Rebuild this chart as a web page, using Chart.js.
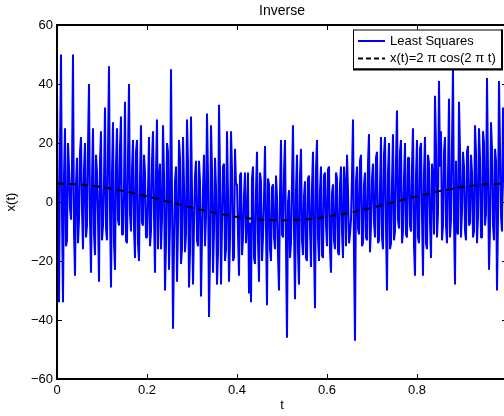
<!DOCTYPE html>
<html>
<head>
<meta charset="utf-8">
<script src="https://cdn.jsdelivr.net/npm/chart.js@4.4.1/dist/chart.umd.min.js"></script>
<style>
  html, body { margin: 0; padding: 0; background: #fff; overflow: hidden; }
  #wrap { width: 504px; height: 416px; overflow: hidden; }
</style>
</head>
<body>
<div id="wrap"><canvas id="chart-inverse" width="520" height="416"></canvas></div>
<script>
'use strict'

// ------------------------------------------------------------
// Inverse : least squares estimate vs x(t) = 2 pi cos(2 pi t)
// ------------------------------------------------------------
const FONT = '"Liberation Sans", Arial, Helvetica, sans-serif' ;

const X_TICKS = [0, 0.2, 0.4, 0.6, 0.8, 1] ;
const Y_TICKS = [-60, -40, -20, 0, 20, 40, 60] ;

// least squares solution, even samples over t in [0, 1]
const LS_VALUES = [
    38, -34, 50, -34, 25, -13, 12, -6, 50, -25,
    15, -6, 22, -16, 20, -8, 40, -24, 25, -18,
    10, -27, 24, -8, 32, -13, 46, -29, 27, -23,
    25, -8, 29, -11, 34, -14, 40, -10, 21, -19,
    21, -20, 26, -8, 10, -12, 22, -10, 24, -24,
    28, 8, -16, 26, -30, 20, -23, 45, -43, 7,
    -27, 21, -21, 22, -17, 28, -29, 29, -28, 9,
    -13, 14, -32, 5, -15, 30, -39, 26, -24, 15,
    -28, 33, -28, 12, -20, 24, -27, 24, -20, 18,
    6, -25, 10, -12, 10, -6, -31, -34, 12, -21,
    17, -27, 7, -12, 19, -35, 6, -20, 6, -16,
    2, -30, 21, -12, 21, -46, 4, -14, 26, -33,
    16, -28, 18, -18, 7, -20, 9, -22, 17, -36,
    21, -20, 12, -19, 10, -15, 12, -24, 6, -16,
    8, -18, 12, -19, 6, 16, -14, -6, 28, -47,
    12, -11, 16, -14, 10, -13, 23, -8, 13, -12,
    17, -13, 22, -16, 22, -30, 20, -14, 23, -10,
    31, -9, 21, -10, 20, -12, 15, -10, 25, -25,
    21, -14, 20, -25, 22, -16, 13, -19, 8, 36,
    -12, 41, 24, -8, 22, -14, 35, -6, 45, -28,
    -10, 34, -12, 17, -10, 17, -8, 16, -12, 26,
    -14, 25, -12, 24, -8, 42, -23, 27, -8, 18,
    -30, 41, -5, 32, -2, 15
] ;

// odd samples, each one sits between two of the even samples above
const LS_MID_VALUES = [
    -12, 18, -4, 9, -15, 20, -2, 12, -10, 6,
    -14, 17, -3, 11, -12, 19, -6, 8, -11, 16,
    -5, 14, -13, 7, -9, 18, -3, 10, -14, 13,
    -6, 19, -11, 5, -13, 16, -4, 11, -9, 17,
    -14, 8, -7, 16, -12, 4, -15, 14, -5, 10,
    -16, 13, -6, 9, -14, 17, -8, 3, -15, 12,
    -9, 15, -16, 6, -11, 13, -17, 4, -8, 14,
    -15, 7, -12, 16, -5, 9, -18, 11, -10, 5,
    -17, 10, -8, 13, -16, 3, -12, 11, -19, 6,
    -11, 9, -18, 2, -14, 10, -7, 8, -19, 4,
    -13, 10, -20, 1, -9, 8, -16, 5, -12, 9,
    -18, 3, -11, 10, -15, 0, -19, 7, -10, 4,
    -17, 9, -13, 2, -19, 8, -9, 5, -16, 11,
    -12, 4, -18, 9, -8, 11, -16, 3, -13, 10,
    -17, 6, -10, 12, -15, 4, -11, 9, -18, 7,
    -9, 14, -15, 6, -12, 13, -17, 8, -7, 15,
    -14, 5, -12, 16, -9, 10, -16, 7, -13, 14,
    -6, 17, -14, 8, -11, 15, -8, 12, -15, 9,
    -12, 18, -5, 10, -14, 16, -7, 13, -11, 19,
    -4, 12, -13, 17, -8, 9, -12, 20, -6, 14,
    -11, 18, -3, 12, -13, 19, -7, 10, -10, 17,
    -5, 15, -12, 20, -4, 11, -9, 18, -13, 14,
    -6, 19, -10, 13, -4
] ;

// exact solution
const COS_T = [0, 0.05, 0.1, 0.15, 0.2, 0.25, 0.3, 0.35, 0.4, 0.45, 0.5,
               0.55, 0.6, 0.65, 0.7, 0.75, 0.8, 0.85, 0.9, 0.95, 1] ;
const COS_VALUES = [6.28, 5.98, 5.08, 3.69, 1.94, 0, -1.94, -3.69, -5.08, -5.98, -6.28,
                    -5.98, -5.08, -3.69, -1.94, 0, 1.94, 3.69, 5.08, 5.98, 6.28] ;

const LEGEND_LABELS = ['Least Squares', 'x(t)=2 \u03c0 cos(2 \u03c0 t)'] ;
const TICK_LEN = 5 ;

// even / odd samples put back in order
const lsSeries = [] ;
LS_VALUES.forEach((v, i) => {
    lsSeries.push(v) ;
    if (i < LS_MID_VALUES.length) lsSeries.push(LS_MID_VALUES[i]) ;
}) ;
const lsPoints  = lsSeries.map((v, i) => ({ x: i / (lsSeries.length - 1), y: v })) ;
const cosPoints = COS_T.map((t, i) => ({ x: t, y: COS_VALUES[i] })) ;

const fmtMinus = v => (v < 0 ? '\u2212' + Math.abs(v) : String(v)) ;

// matlab-like box : frame + inner ticks on the 4 sides, title, legend
const frameTicks = {
    id: 'frameTicks',
    afterDatasetsDraw(chart) {
        const { ctx, chartArea: a, scales: { x, y } } = chart ;
        ctx.save() ;
        ctx.strokeStyle = '#000' ;
        ctx.lineWidth = 1 ;
        ctx.beginPath() ;
        X_TICKS.forEach(v => {
            const px = Math.round(x.getPixelForValue(v)) + 0.5 ;
            ctx.moveTo(px, a.bottom) ; ctx.lineTo(px, a.bottom - TICK_LEN) ;
            ctx.moveTo(px, a.top) ;    ctx.lineTo(px, a.top + TICK_LEN) ;
        }) ;
        Y_TICKS.forEach(v => {
            const py = Math.round(y.getPixelForValue(v)) + 0.5 ;
            ctx.moveTo(a.left, py) ;  ctx.lineTo(a.left + TICK_LEN, py) ;
            ctx.moveTo(a.right, py) ; ctx.lineTo(a.right - TICK_LEN, py) ;
        }) ;
        ctx.stroke() ;
        ctx.lineWidth = 2 ;
        ctx.strokeRect(a.left, a.top, a.right - a.left, a.bottom - a.top) ;
        ctx.restore() ;
    },
    afterDraw(chart) {
        const { ctx, chartArea: a } = chart ;
        ctx.save() ;

        // title
        ctx.fillStyle = '#000' ;
        ctx.font = '14px ' + FONT ;
        ctx.textAlign = 'center' ;
        ctx.textBaseline = 'alphabetic' ;
        ctx.fillText('Inverse', (a.left + a.right) / 2, 15) ;

        // legend box, top right inside the axes
        const w = 149, h = 40 ;
        const bx = a.right - 5 - w, by = a.top + 4.5 ;
        ctx.fillStyle = '#fff' ;
        ctx.fillRect(bx, by, w, h) ;
        ctx.strokeStyle = '#000' ;
        ctx.lineWidth = 1 ;
        ctx.strokeRect(bx + 0.5, by + 0.5, w - 1, h - 1) ;
        ctx.lineWidth = 2 ;
        ctx.beginPath() ;
        ctx.moveTo(bx + w, by) ; ctx.lineTo(bx + w, by + h) ; ctx.lineTo(bx, by + h) ;
        ctx.stroke() ;

        const rows = [by + 11.5, by + 29] ;
        ctx.lineWidth = 2 ;
        ctx.strokeStyle = '#0000ff' ;
        ctx.beginPath() ; ctx.moveTo(bx + 5, rows[0]) ; ctx.lineTo(bx + 32, rows[0]) ; ctx.stroke() ;
        ctx.strokeStyle = '#000' ;
        ctx.setLineDash([5, 3]) ;
        ctx.beginPath() ; ctx.moveTo(bx + 5, rows[1]) ; ctx.lineTo(bx + 32, rows[1]) ; ctx.stroke() ;
        ctx.setLineDash([]) ;

        ctx.fillStyle = '#000' ;
        ctx.font = '13px ' + FONT ;
        ctx.textAlign = 'left' ;
        ctx.textBaseline = 'middle' ;
        LEGEND_LABELS.forEach((txt, i) => ctx.fillText(txt, bx + 37, rows[i])) ;
        ctx.restore() ;
    }
} ;

new Chart(document.getElementById('chart-inverse'), {
    type: 'line',
    data: {
        datasets: [{
            label: LEGEND_LABELS[1],
            data: cosPoints,
            borderColor: '#000',
            borderWidth: 2,
            borderDash: [7, 5],
            pointRadius: 0,
            order: 0,
        }, {
            label: LEGEND_LABELS[0],
            data: lsPoints,
            borderColor: '#0000ff',
            borderWidth: 2,
            borderJoinStyle: 'bevel',
            pointRadius: 0,
            order: 1,
        }]
    },
    options: {
        responsive: false,
        animation: false,
        devicePixelRatio: 1,
        layout: { padding: { left: 0, right: 13, top: 25, bottom: 0 } },
        plugins: {
            legend: { display: false },
            title: { display: false },
            tooltip: { enabled: false },
        },
        scales: {
            x: {
                type: 'linear',
                min: 0,
                max: 1,
                afterBuildTicks: s => { s.ticks = X_TICKS.map(v => ({ value: v })) ; },
                afterFit: s => { s.height = 37 ; },
                grid: { display: false, drawTicks: false },
                border: { display: false },
                ticks: {
                    color: '#000', padding: 4, maxRotation: 0, autoSkip: false,
                    font: { size: 13, family: FONT },
                    callback: v => String(v),
                },
                title: {
                    display: true, text: 't', color: '#000',
                    font: { size: 13, family: FONT },
                    padding: { top: 0, bottom: 3 },
                }
            },
            y: {
                min: -60,
                max: 60,
                afterBuildTicks: s => { s.ticks = Y_TICKS.map(v => ({ value: v })) ; },
                afterFit: s => { s.width = 57 ; },
                grid: { display: false, drawTicks: false },
                border: { display: false },
                ticks: {
                    color: '#000', padding: 4,
                    font: { size: 13, family: FONT },
                    callback: fmtMinus,
                },
                title: {
                    display: true, text: 'x(t)', color: '#000',
                    font: { size: 13, family: FONT },
                    padding: { top: 4, bottom: 0 },
                }
            }
        }
    },
    plugins: [frameTicks]
}) ;
</script>
</body>
</html>
